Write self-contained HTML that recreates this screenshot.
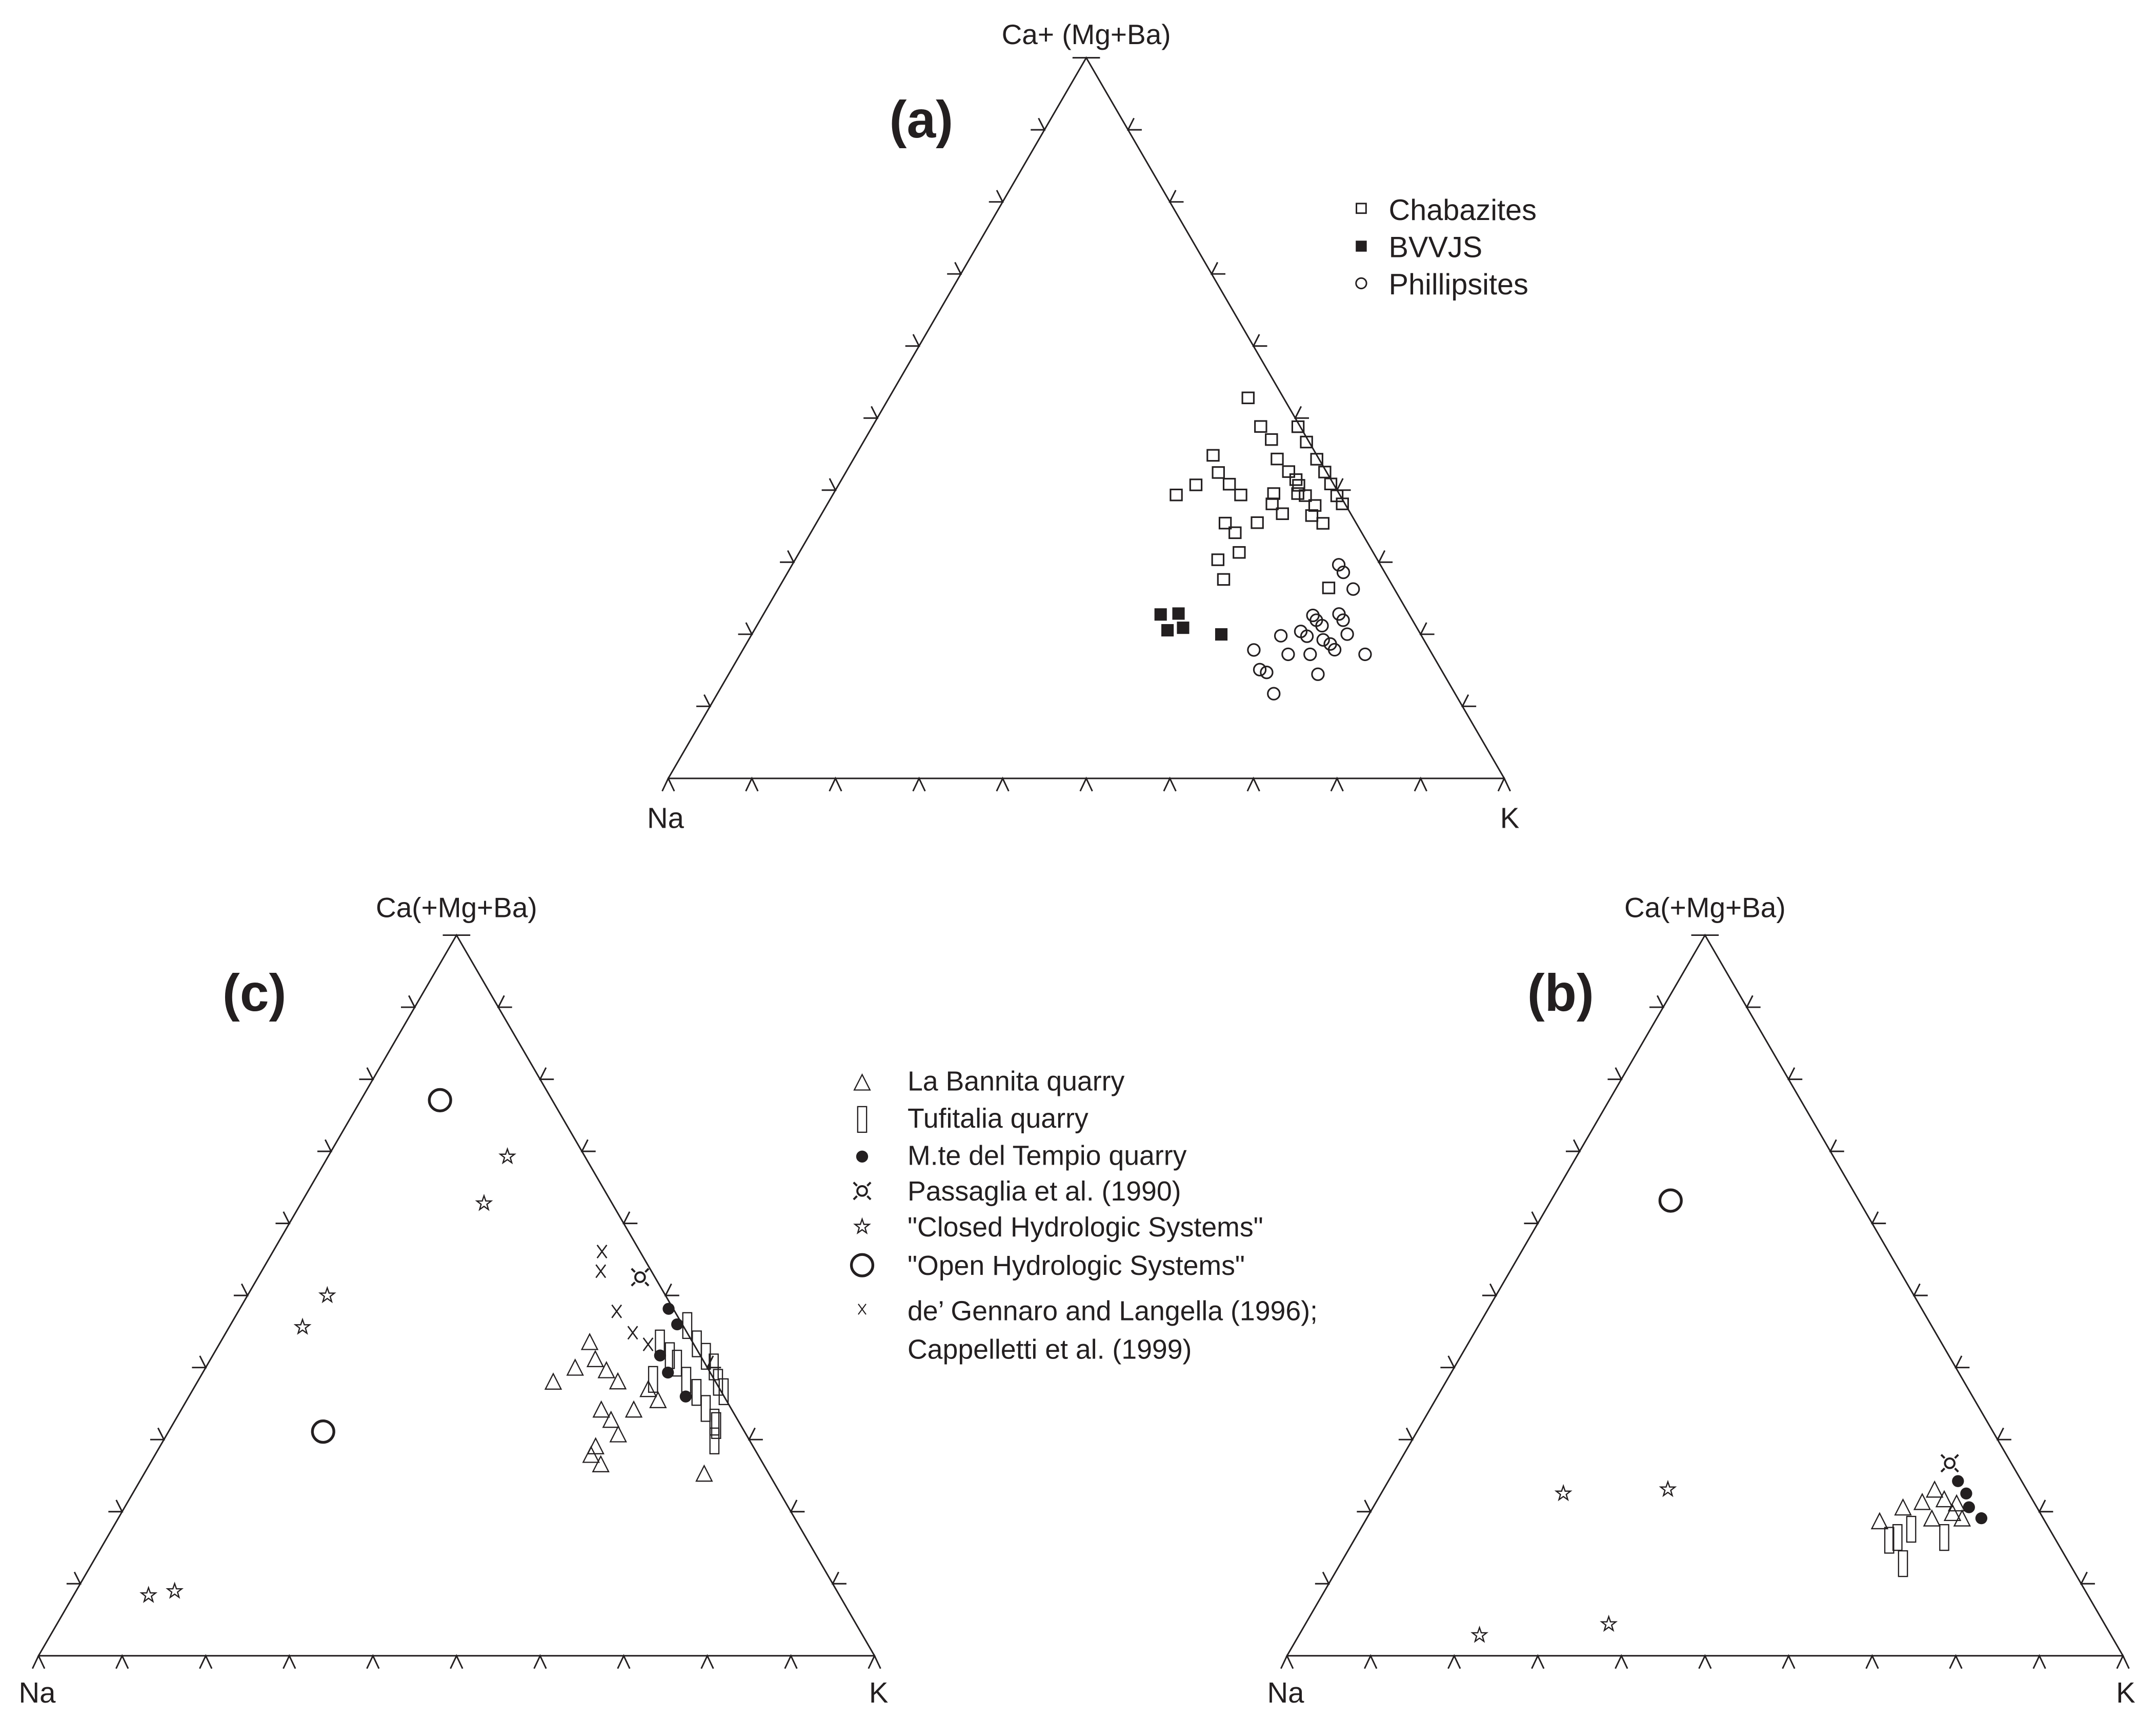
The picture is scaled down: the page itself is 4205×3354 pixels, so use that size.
<!DOCTYPE html>
<html><head><meta charset="utf-8"><style>
html,body{margin:0;padding:0;background:#fff;}
svg{display:block;}
text{font-family:"Liberation Sans",Arial,sans-serif;fill:#231f20;}
</style></head><body>
<svg width="4205" height="3354" viewBox="0 0 1568 1250.7" xmlns="http://www.w3.org/2000/svg">
<defs>
<g id="tri" fill="none" stroke="#231f20" stroke-width="1.1">
<path d="M304 0 L0 524 L608 524 Z"/>
<path d="M-4.4 533.3L0 524L4.4 533.3 M56.4 533.3L60.8 524L65.2 533.3 M117.2 533.3L121.6 524L126 533.3 M178 533.3L182.4 524L186.8 533.3 M238.8 533.3L243.2 524L247.6 533.3 M299.6 533.3L304 524L308.4 533.3 M360.4 533.3L364.8 524L369.2 533.3 M421.2 533.3L425.6 524L430 533.3 M482 533.3L486.4 524L490.8 533.3 M542.8 533.3L547.2 524L551.6 533.3 M603.6 533.3L608 524L612.4 533.3"/>
<path d="M20.4 471.6L30.4 471.6L26.1 463.1 M50.8 419.2L60.8 419.2L56.5 410.7 M81.2 366.8L91.2 366.8L86.9 358.3 M111.6 314.4L121.6 314.4L117.3 305.9 M142 262L152 262L147.7 253.5 M172.4 209.6L182.4 209.6L178.1 201.1 M202.8 157.2L212.8 157.2L208.5 148.7 M233.2 104.8L243.2 104.8L238.9 96.3 M263.6 52.4L273.6 52.4L269.3 43.9 M294 0L304 0"/>
<path d="M587.6 471.6L577.6 471.6L581.9 463.1 M557.2 419.2L547.2 419.2L551.5 410.7 M526.8 366.8L516.8 366.8L521.1 358.3 M496.4 314.4L486.4 314.4L490.7 305.9 M466 262L456 262L460.3 253.5 M435.6 209.6L425.6 209.6L429.9 201.1 M405.2 157.2L395.2 157.2L399.5 148.7 M374.8 104.8L364.8 104.8L369.1 96.3 M344.4 52.4L334.4 52.4L338.7 43.9 M314 0L304 0"/>
</g>
<rect id="sq" x="-25" y="-24" width="50" height="48" fill="none" stroke="#231f20" stroke-width="7"/>
<rect id="fsq" x="-27" y="-27" width="54" height="54" fill="#231f20"/>
<circle id="oc" r="26" fill="none" stroke="#231f20" stroke-width="7"/>
<path id="tr" d="M0 -45 L-46 45 L46 45 Z" fill="none" stroke="#231f20" stroke-width="7"/>
<rect id="rc" x="-26" y="-75" width="52" height="150" fill="none" stroke="#231f20" stroke-width="7"/>
<circle id="fc" r="35" fill="#231f20"/>
<g id="xx" stroke="#231f20" stroke-width="8"><path d="M-28 -38 L28 38 M28 -38 L-28 38"/></g>
<g id="pg" stroke="#231f20" fill="none"><circle r="28" stroke-width="12"/><path d="M-30 -30 L-50 -50 M30 -30 L50 -50 M-30 30 L-50 50 M30 30 L50 50" stroke-width="12"/></g>
<path id="st" d="M0 -5.5 L1.3 -1.7 L5.2 -1.7 L2.1 0.7 L3.2 4.5 L0 2.2 L-3.2 4.5 L-2.1 0.7 L-5.2 -1.7 L-1.3 -1.7 Z" fill="none" stroke="#231f20" stroke-width="0.9"/>
<circle id="bc" r="7.8" fill="none" stroke="#231f20" stroke-width="2"/>
</defs>

<!-- (a) -->
<use href="#tri" transform="translate(486,42)"/>
<text x="790" y="32" font-size="20.5" text-anchor="middle">Ca+ (Mg+Ba)</text>
<text x="670" y="100" font-size="38" font-weight="bold" text-anchor="middle">(a)</text>
<text x="484" y="602" font-size="21" text-anchor="middle">Na</text>
<text x="1098" y="602" font-size="21" text-anchor="middle">K</text>
<rect x="986.5" y="148" width="7" height="7" fill="none" stroke="#231f20" stroke-width="1.1"/>
<text x="1010" y="160" font-size="21.5">Chabazites</text>
<rect x="986" y="175" width="8" height="8" fill="#231f20"/>
<text x="1010" y="187" font-size="21.5">BVVJS</text>
<circle cx="990" cy="206" r="3.8" fill="none" stroke="#231f20" stroke-width="1.1"/>
<text x="1010" y="214" font-size="21.5">Phillipsites</text>

<g transform="translate(820.3,261) scale(0.1665)">
<use href="#sq" x="525" y="170"/><use href="#sq" x="580" y="295"/><use href="#sq" x="627" y="352"/><use href="#sq" x="743" y="296"/><use href="#sq" x="780" y="363"/><use href="#sq" x="825" y="438"/><use href="#sq" x="372" y="421"/><use href="#sq" x="395" y="496"/><use href="#sq" x="443" y="547"/><use href="#sq" x="493" y="594"/><use href="#sq" x="297" y="550"/><use href="#sq" x="211" y="594"/><use href="#sq" x="652" y="437"/><use href="#sq" x="702" y="492"/><use href="#sq" x="734" y="527"/><use href="#sq" x="746" y="552"/><use href="#sq" x="742" y="588"/><use href="#sq" x="775" y="597"/><use href="#sq" x="637" y="588"/><use href="#sq" x="630" y="633"/><use href="#sq" x="675" y="676"/><use href="#sq" x="817" y="640"/><use href="#sq" x="803" y="684"/><use href="#sq" x="852" y="718"/><use href="#sq" x="860" y="494"/><use href="#sq" x="886" y="546"/><use href="#sq" x="913" y="598"/><use href="#sq" x="937" y="633"/><use href="#sq" x="425" y="717"/><use href="#sq" x="468" y="759"/><use href="#sq" x="565" y="715"/><use href="#sq" x="486" y="845"/><use href="#sq" x="393" y="877"/><use href="#sq" x="418" y="963"/><use href="#sq" x="877" y="1000"/>
<use href="#fsq" x="143" y="1116"/><use href="#fsq" x="221" y="1112"/><use href="#fsq" x="173" y="1185"/><use href="#fsq" x="241" y="1174"/><use href="#fsq" x="408" y="1203"/>
<use href="#oc" x="921" y="899"/><use href="#oc" x="941" y="932"/><use href="#oc" x="984" y="1005"/><use href="#oc" x="808" y="1120"/><use href="#oc" x="823" y="1141"/><use href="#oc" x="848" y="1165"/><use href="#oc" x="922" y="1114"/><use href="#oc" x="940" y="1141"/><use href="#oc" x="958" y="1202"/><use href="#oc" x="755" y="1190"/><use href="#oc" x="782" y="1211"/><use href="#oc" x="668" y="1209"/><use href="#oc" x="853" y="1227"/><use href="#oc" x="884" y="1245"/><use href="#oc" x="903" y="1270"/><use href="#oc" x="550" y="1271"/><use href="#oc" x="700" y="1290"/><use href="#oc" x="796" y="1290"/><use href="#oc" x="1036" y="1290"/><use href="#oc" x="576" y="1357"/><use href="#oc" x="606" y="1369"/><use href="#oc" x="830" y="1377"/><use href="#oc" x="637" y="1462"/>
</g>

<!-- (c) -->
<use href="#tri" transform="translate(28,680)"/>
<text x="332" y="667" font-size="20.5" text-anchor="middle">Ca(+Mg+Ba)</text>
<text x="185" y="735" font-size="38" font-weight="bold" text-anchor="middle">(c)</text>
<text x="27" y="1238" font-size="21" text-anchor="middle">Na</text>
<text x="639" y="1238" font-size="21" text-anchor="middle">K</text>

<g transform="translate(372.9,857.6) scale(0.1243)">
<use href="#xx" x="522" y="422"/><use href="#xx" x="515" y="537"/><use href="#xx" x="608" y="772"/><use href="#xx" x="702" y="897"/><use href="#xx" x="792" y="965"/>
<use href="#pg" x="745" y="572"/>
<use href="#rc" x="861" y="957"/><use href="#rc" x="919" y="1031"/><use href="#rc" x="961" y="1075"/><use href="#rc" x="1021" y="855"/><use href="#rc" x="1077" y="962"/><use href="#rc" x="1130" y="1035"/><use href="#rc" x="1176" y="1097"/><use href="#rc" x="1201" y="1187"/><use href="#rc" x="1234" y="1242"/><use href="#rc" x="821" y="1170"/><use href="#rc" x="1015" y="1175"/><use href="#rc" x="1075" y="1246"/><use href="#rc" x="1129" y="1340"/><use href="#rc" x="1190" y="1440"/><use href="#rc" x="1180" y="1420"/>
<use href="#fc" x="912" y="757"/><use href="#fc" x="962" y="848"/><use href="#fc" x="862" y="1030"/><use href="#fc" x="908" y="1130"/><use href="#fc" x="1012" y="1270"/>
<use href="#tr" x="450" y="950"/><use href="#tr" x="483" y="1050"/><use href="#tr" x="365" y="1100"/><use href="#tr" x="548" y="1115"/><use href="#tr" x="615" y="1180"/><use href="#tr" x="237" y="1182"/><use href="#tr" x="793" y="1225"/><use href="#tr" x="850" y="1290"/><use href="#tr" x="518" y="1345"/><use href="#tr" x="708" y="1345"/><use href="#tr" x="575" y="1405"/><use href="#tr" x="617" y="1490"/><use href="#tr" x="485" y="1560"/><use href="#tr" x="458" y="1610"/><use href="#tr" x="515" y="1665"/><use href="#tr" x="1120" y="1720"/><use href="#rc" x="1180" y="1530"/>
</g>
<use href="#bc" x="320" y="800"/><use href="#bc" x="235" y="1041"/>
<use href="#st" x="369" y="841"/><use href="#st" x="352" y="875"/><use href="#st" x="238" y="942"/><use href="#st" x="220" y="965"/><use href="#st" x="108" y="1160"/><use href="#st" x="127" y="1157"/>

<!-- legend c -->
<g transform="translate(627,787) scale(0.1243)"><use href="#tr"/></g>
<text x="660" y="793" font-size="20">La Bannita quarry</text>
<g transform="translate(627,814) scale(0.1243)"><use href="#rc"/></g>
<text x="660" y="820" font-size="20">Tufitalia quarry</text>
<g transform="translate(627,841) scale(0.1243)"><use href="#fc"/></g>
<text x="660" y="847" font-size="20">M.te del Tempio quarry</text>
<g transform="translate(627,866) scale(0.1243)"><use href="#pg"/></g>
<text x="660" y="873" font-size="20">Passaglia et al. (1990)</text>
<use href="#st" x="627" y="892"/>
<text x="660" y="899" font-size="20">"Closed Hydrologic Systems"</text>
<use href="#bc" x="627" y="920"/>
<text x="660" y="927" font-size="20">"Open Hydrologic Systems"</text>
<g transform="translate(627,952) scale(0.1)"><use href="#xx"/></g>
<text x="660" y="960" font-size="20">de’ Gennaro and Langella (1996);</text>
<text x="660" y="988" font-size="20">Cappelletti et al. (1999)</text>

<!-- (b) -->
<use href="#tri" transform="translate(936,680)"/>
<text x="1240" y="667" font-size="20.5" text-anchor="middle">Ca(+Mg+Ba)</text>
<text x="1135" y="735" font-size="38" font-weight="bold" text-anchor="middle">(b)</text>
<text x="935" y="1238" font-size="21" text-anchor="middle">Na</text>
<text x="1546" y="1238" font-size="21" text-anchor="middle">K</text>
<use href="#bc" x="1215" y="873"/>
<use href="#st" x="1137" y="1086"/><use href="#st" x="1213" y="1083"/><use href="#st" x="1076" y="1189"/><use href="#st" x="1170" y="1181"/>
<g transform="translate(1418,1064) scale(0.1243)"><use href="#pg"/></g>
<g transform="translate(1424,1077) scale(0.1243)"><use href="#fc"/></g>
<g transform="translate(1430,1086) scale(0.1243)"><use href="#fc"/></g>
<g transform="translate(1432,1096) scale(0.1243)"><use href="#fc"/></g>
<g transform="translate(1441,1104) scale(0.1243)"><use href="#fc"/></g>
<g transform="translate(1367,1106) scale(0.1243)"><use href="#tr"/></g>
<g transform="translate(1384,1096) scale(0.1243)"><use href="#tr"/></g>
<g transform="translate(1398,1092) scale(0.1243)"><use href="#tr"/></g>
<g transform="translate(1407,1083) scale(0.1243)"><use href="#tr"/></g>
<g transform="translate(1414,1090) scale(0.1243)"><use href="#tr"/></g>
<g transform="translate(1405,1104) scale(0.1243)"><use href="#tr"/></g>
<g transform="translate(1420,1100) scale(0.1243)"><use href="#tr"/></g>
<g transform="translate(1427,1104) scale(0.1243)"><use href="#tr"/></g>
<g transform="translate(1423,1093) scale(0.1243)"><use href="#tr"/></g>
<g transform="translate(1374,1120) scale(0.1243)"><use href="#rc"/></g>
<g transform="translate(1384,1137) scale(0.1243)"><use href="#rc"/></g>
<g transform="translate(1390,1112) scale(0.1243)"><use href="#rc"/></g>
<g transform="translate(1414,1118) scale(0.1243)"><use href="#rc"/></g>
<g transform="translate(1380,1118) scale(0.1243)"><use href="#rc"/></g>
</svg>
</body></html>
